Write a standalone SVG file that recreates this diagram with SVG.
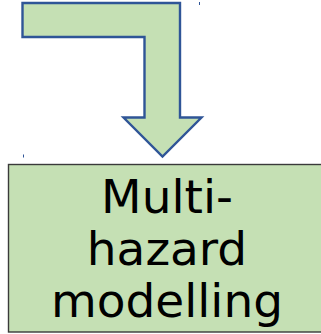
<svg xmlns="http://www.w3.org/2000/svg" width="321" height="334" viewBox="0 0 321 334">
<style>
.shape{fill:#c5e0b4;stroke:#2f5597;stroke-width:2.4}
.box{fill:#c5e0b4;stroke:#3a3a3a;stroke-width:1.4}
.lbl{font-family:"DejaVu Sans",sans-serif;font-size:47px;fill:#000;text-anchor:middle}
.tick{stroke:#2f5597;stroke-width:1}
</style>
<g id="connectors">
<path class="shape" d="M22.5,3 H180 V117.5 H201.5 L162.5,156.5 L123.5,117.5 H144.5 V37 H22.5 Z"/>
</g>
<line class="tick" x1="199.5" y1="2" x2="199.5" y2="5"/>
<line class="tick" x1="23.5" y1="154.5" x2="23.5" y2="157.5"/>
<g id="node-multihazard">
<rect class="box" x="8.5" y="164.5" width="320" height="167.5"/>
<text class="lbl" x="167" y="212.7">Multi-</text>
<text class="lbl" x="167" y="265">hazard</text>
<text class="lbl" x="167" y="316.7">modelling</text>
</g>
</svg>
